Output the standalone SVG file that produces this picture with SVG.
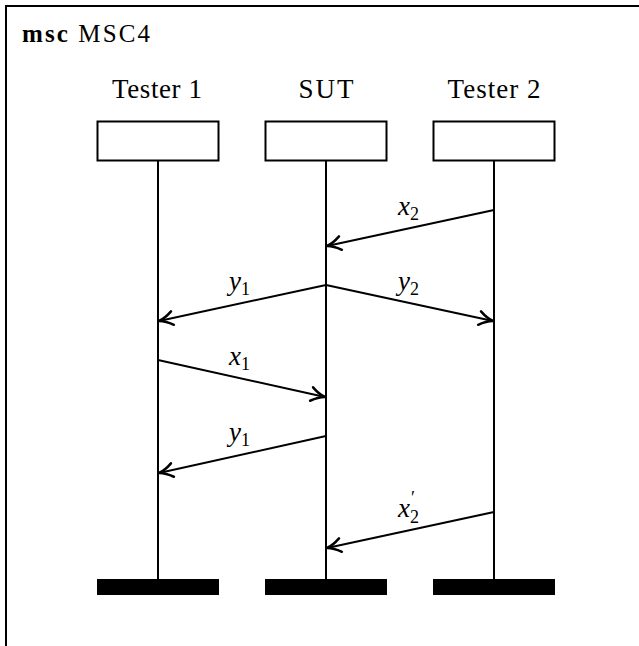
<svg xmlns="http://www.w3.org/2000/svg" width="639" height="646" viewBox="0 0 639 646">
<defs>
<marker id="arr" markerUnits="userSpaceOnUse" markerWidth="20" markerHeight="20" refX="0" refY="0" viewBox="-14 -8 16 16" orient="auto" overflow="visible">
<path d="M -11 -5.5 C -7 -2.5 -3 -0.6 0 0 C -3 0.6 -7 2.5 -11 5.5" fill="none" stroke="#000" stroke-width="2" stroke-linecap="round"/>
</marker>
<style>
.frame{fill:none;stroke:#000;stroke-width:2}
.head{fill:#fff;stroke:#000;stroke-width:2}
.life{stroke:#000;stroke-width:2}
.end{fill:#000}
.lbl{font-size:27px;fill:#000;text-anchor:middle}
.ttl{font-size:25px;fill:#000}
.msg{stroke:#000;stroke-width:2;fill:none;marker-end:url(#arr)}
.m{font-style:italic;font-size:27px;fill:#000}
.sub{font-style:normal;font-size:18px}
</style>
</defs>
<rect width="639" height="646" fill="#fff"/>
<g font-family="Liberation Serif, Times New Roman, DejaVu Serif, serif">
<g id="frame">
<path class="frame" d="M 6 646 L 6 6 L 639 6"/>
<text class="ttl" x="22" y="42" textLength="128" lengthAdjust="spacing"><tspan font-weight="bold">msc</tspan> MSC4</text>
</g>
<g id="tester1">
<text class="lbl" x="157" y="98" textLength="90" lengthAdjust="spacing">Tester 1</text>
<rect class="head" x="97.5" y="121.5" width="121" height="39"/>
<line class="life" x1="158" y1="161" x2="158" y2="580"/>
<rect class="end" x="97" y="579" width="122" height="16"/>
</g>
<g id="sut">
<text class="lbl" x="326" y="98" textLength="55" lengthAdjust="spacing">SUT</text>
<rect class="head" x="265.5" y="121.5" width="121" height="39"/>
<line class="life" x1="326" y1="161" x2="326" y2="580"/>
<rect class="end" x="265" y="579" width="122" height="16"/>
</g>
<g id="tester2">
<text class="lbl" x="494" y="98" textLength="93" lengthAdjust="spacing">Tester 2</text>
<rect class="head" x="433.5" y="121.5" width="121" height="39"/>
<line class="life" x1="494" y1="161" x2="494" y2="580"/>
<rect class="end" x="433" y="579" width="122" height="16"/>
</g>
<g id="connectors">
<line class="msg" x1="494" y1="210" x2="327" y2="246"/>
<line class="msg" x1="326" y1="285" x2="159" y2="321"/>
<line class="msg" x1="326" y1="285" x2="493" y2="321"/>
<line class="msg" x1="158" y1="360" x2="325" y2="397"/>
<line class="msg" x1="326" y1="436" x2="159" y2="473"/>
<line class="msg" x1="494" y1="512" x2="327" y2="548"/>
<text class="m" x="398" y="215">x<tspan class="sub" dy="5">2</tspan></text>
<text class="m" x="229" y="290">y<tspan class="sub" dy="5">1</tspan></text>
<text class="m" x="398" y="290">y<tspan class="sub" dy="5">2</tspan></text>
<text class="m" x="229" y="365">x<tspan class="sub" dy="5">1</tspan></text>
<text class="m" x="229" y="441">y<tspan class="sub" dy="5">1</tspan></text>
<text class="m" x="398" y="517">x<tspan class="sub" x="411" y="504" font-size="16">′</tspan><tspan class="sub" x="410" y="523">2</tspan></text>
</g>
</g>
</svg>
